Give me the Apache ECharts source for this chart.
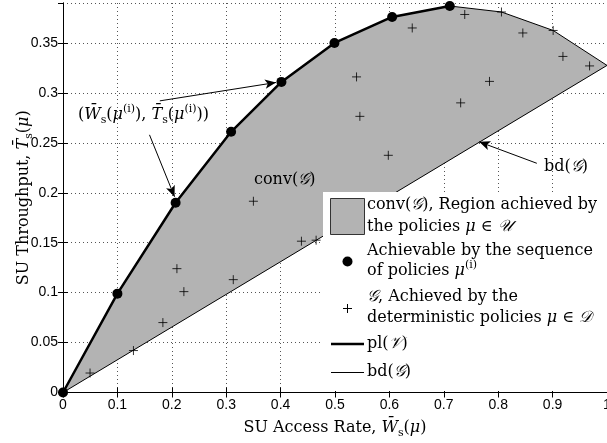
<!DOCTYPE html>
<html>
<head>
<meta charset="utf-8">
<script src="https://cdn.jsdelivr.net/npm/echarts@6/dist/echarts.min.js"></script>
<style>
  html, body { margin: 0; padding: 0; background: #fff; }
  #chart { width: 607px; height: 443px; }
</style>
</head>
<body>
<div id="chart"></div>
<script>
// points reached by the sequence of policies mu^(i)
var dotX = [0, 0.1, 0.207, 0.309, 0.4015, 0.499, 0.605, 0.711];
var dotY = [0, 0.099, 0.19, 0.261, 0.311, 0.35, 0.376, 0.387];

// rest of the hull boundary (after last dot, back to origin)
var bdTailX = [0.806, 0.901, 1.0, 0];
var bdTailY = [0.381, 0.3625, 0.3275, 0];

// deterministic policies G
var plusX = [0.0497, 0.1295, 0.1836, 0.2094, 0.2222, 0.313, 0.350, 0.4383, 0.4653, 0.5396, 0.5457, 0.598,
             0.642, 0.731, 0.7385, 0.784, 0.806, 0.8453, 0.901, 0.919, 0.968];
var plusY = [0.0195, 0.042, 0.070, 0.124, 0.101, 0.113, 0.1915, 0.1515, 0.1525, 0.316, 0.2765, 0.2375,
             0.365, 0.290, 0.3785, 0.3115, 0.381, 0.360, 0.3625, 0.3365, 0.327];

var xTicks = ['0', '0.1', '0.2', '0.3', '0.4', '0.5', '0.6', '0.7', '0.8', '0.9', '1'];
var yTicks = ['0', '0.05', '0.1', '0.15', '0.2', '0.25', '0.3', '0.35'];

var hullX = dotX.concat(bdTailX);
var hullY = dotY.concat(bdTailY);

var SERIF = 'DejaVu Serif';
var rich = {
    r: { fontFamily: SERIF, fontSize: 16, color: '#000', lineHeight: 22 },
    i: { fontFamily: SERIF, fontStyle: 'italic', fontSize: 16, color: '#000', lineHeight: 22 },
    sub: { fontFamily: SERIF, fontSize: 11, color: '#000', verticalAlign: 'bottom', lineHeight: 14 },
    sup: { fontFamily: SERIF, fontSize: 11, color: '#000', verticalAlign: 'top', lineHeight: 14 }
};

var plusPath = 'path://M0,5H10M5,0V10';

var chart = echarts.init(document.getElementById('chart'));

function tickFmt(list, step) {
    return function (v) {
        var k = Math.round(v / step);
        if (Math.abs(k * step - v) > 1e-9) return '';
        return list[k] || '';
    };
}

function axisLine() { return { lineStyle: { color: '#000', width: 1 } }; }
function axisTick() { return { inside: true, length: 5, lineStyle: { color: '#000' } }; }
function gridLine() { return { show: true, lineStyle: { color: '#555', width: 1, type: [1, 3] } }; }

chart.setOption({
    animation: false,
    backgroundColor: '#fff',
    grid: { left: 63, right: 0, top: 3, bottom: 50.5, containLabel: false, outerBoundsMode: 'none' },
    xAxis: [{
        type: 'value', min: 0, max: 1, interval: 0.1, position: 'bottom',
        axisLine: axisLine(), axisTick: axisTick(),
        axisLabel: { color: '#000', fontFamily: 'Liberation Sans', fontSize: 14, margin: 6, formatter: tickFmt(xTicks, 0.1) },
        splitLine: gridLine(),
        name: '{r|SU Access Rate, }{i|W\u0304}{sub|s}{r|(}{i|\u03bc}{r|)}',
        nameLocation: 'middle', nameGap: 24, nameMoveOverlap: false,
        nameTextStyle: { rich: rich }
    }, {
        type: 'value', min: 0, max: 1, interval: 0.1, position: 'top',
        axisLine: axisLine(), axisTick: axisTick(),
        axisLabel: { show: false }, splitLine: { show: false }
    }],
    yAxis: [{
        type: 'value', min: 0, max: 0.39, interval: 0.05, position: 'left',
        axisLine: axisLine(), axisTick: axisTick(),
        axisLabel: { color: '#000', fontFamily: 'Liberation Sans', fontSize: 14, margin: 5, showMaxLabel: false, formatter: tickFmt(yTicks, 0.05) },
        splitLine: gridLine(),
        name: '{r|SU Throughput, }{i|T\u0304}{sub|s}{r|(}{i|\u03bc}{r|)}',
        nameLocation: 'middle', nameGap: 28, nameMoveOverlap: false,
        nameTextStyle: { rich: rich }
    }, {
        type: 'value', min: 0, max: 0.39, interval: 0.05, position: 'right',
        axisLine: axisLine(), axisTick: axisTick(),
        axisLabel: { show: false }, splitLine: { show: false }
    }],
    series: [{
        // conv(G): filled region
        type: 'custom',
        name: 'conv(G)',
        silent: true,
        z: 1,
        data: hullX.map(function (x, i) { return [x, hullY[i]]; }),
        renderItem: function (params, api) {
            if (params.dataIndex !== 0) return null;
            var pts = hullX.map(function (x, i) { return api.coord([x, hullY[i]]); });
            return { type: 'polygon', shape: { points: pts }, style: { fill: '#b3b3b3', stroke: 'none' } };
        }
    }, {
        // bd(G): thin boundary
        type: 'line',
        name: 'bd(G)',
        data: hullX.map(function (x, i) { return [x, hullY[i]]; }),
        showSymbol: false, symbol: 'none',
        lineStyle: { color: '#000', width: 1 },
        z: 3,
        markLine: {
            silent: true,
            symbol: ['none', 'arrow'],
            symbolSize: [7, 11],
            label: { show: false },
            lineStyle: { color: '#000', width: 1, type: 'solid' },
            data: [
                [{ coord: [0.178, 0.292] }, { coord: [0.3915, 0.3104] }],
                [{ coord: [0.159, 0.258] }, { coord: [0.205, 0.196] }],
                [{ coord: [0.871, 0.2295] }, { coord: [0.765, 0.251] }]
            ]
        }
    }, {
        // G: deterministic policies
        type: 'scatter',
        name: 'G',
        data: plusX.map(function (x, i) { return [x, plusY[i]]; }),
        symbol: plusPath, symbolSize: 9,
        itemStyle: { color: 'rgba(0,0,0,0)', borderColor: '#000', borderWidth: 1 },
        z: 4
    }, {
        // pl(V): thick line with dots
        type: 'line',
        name: 'pl(V)',
        data: dotX.map(function (x, i) { return [x, dotY[i]]; }),
        symbol: 'circle', symbolSize: 10, showSymbol: true,
        itemStyle: { color: '#000' },
        lineStyle: { color: '#000', width: 2.5 },
        z: 5
    }],
    graphic: [
        { type: 'text', z: 50, style: { x: 78, y: 115, verticalAlign: 'middle',
            text: '{r|(}{i|W\u0304}{sub|s}{r|(}{i|\u03bc}{sup|(i)}{r|), }{i|T\u0304}{sub|s}{r|(}{i|\u03bc}{sup|(i)}{r|))}', rich: rich } },
        { type: 'text', z: 50, style: { x: 254, y: 180, verticalAlign: 'middle',
            text: '{r|conv(}{i|\ud835\udca2}{r|)}', rich: rich } },
        { type: 'text', z: 50, style: { x: 544, y: 167, verticalAlign: 'middle',
            text: '{r|bd(}{i|\ud835\udca2}{r|)}', rich: rich } },
        // legend
        { type: 'rect', z: 60, shape: { x: 323, y: 192, width: 290, height: 199 }, style: { fill: '#fff' } },
        { type: 'rect', z: 61, shape: { x: 330.5, y: 198.5, width: 34, height: 36 }, style: { fill: '#b3b3b3', stroke: '#333', lineWidth: 1 } },
        { type: 'text', z: 61, style: { x: 367, y: 205, verticalAlign: 'middle', text: '{r|conv(}{i|\ud835\udca2}{r|), Region achieved by}', rich: rich } },
        { type: 'text', z: 61, style: { x: 367, y: 227, verticalAlign: 'middle', text: '{r|the policies }{i|\u03bc}{r| \u2208 }{i|\ud835\udcb0}', rich: rich } },
        { type: 'circle', z: 61, shape: { cx: 347.5, cy: 261.5, r: 5 }, style: { fill: '#000' } },
        { type: 'text', z: 61, style: { x: 367, y: 251, verticalAlign: 'middle', text: '{r|Achievable by the sequence}', rich: rich } },
        { type: 'text', z: 61, style: { x: 367, y: 271, verticalAlign: 'middle', text: '{r|of policies }{i|\u03bc}{sup|(i)}', rich: rich } },
        { type: 'line', z: 61, shape: { x1: 343, y1: 308.5, x2: 352, y2: 308.5 }, style: { stroke: '#000', lineWidth: 1 } },
        { type: 'line', z: 61, shape: { x1: 347.5, y1: 304, x2: 347.5, y2: 313 }, style: { stroke: '#000', lineWidth: 1 } },
        { type: 'text', z: 61, style: { x: 367, y: 297, verticalAlign: 'middle', text: '{i|\ud835\udca2}{r|, Achieved by the}', rich: rich } },
        { type: 'text', z: 61, style: { x: 367, y: 318, verticalAlign: 'middle', text: '{r|deterministic policies }{i|\u03bc}{r| \u2208 }{i|\ud835\udc9f}', rich: rich } },
        { type: 'line', z: 61, shape: { x1: 331, y1: 344, x2: 364, y2: 344 }, style: { stroke: '#000', lineWidth: 2.5 } },
        { type: 'text', z: 61, style: { x: 367, y: 344, verticalAlign: 'middle', text: '{r|pl(}{i|\ud835\udcb1}{r|)}', rich: rich } },
        { type: 'line', z: 61, shape: { x1: 331, y1: 372.5, x2: 364, y2: 372.5 }, style: { stroke: '#000', lineWidth: 1 } },
        { type: 'text', z: 61, style: { x: 367, y: 372, verticalAlign: 'middle', text: '{r|bd(}{i|\ud835\udca2}{r|)}', rich: rich } }
    ]
});
</script>
</body>
</html>
